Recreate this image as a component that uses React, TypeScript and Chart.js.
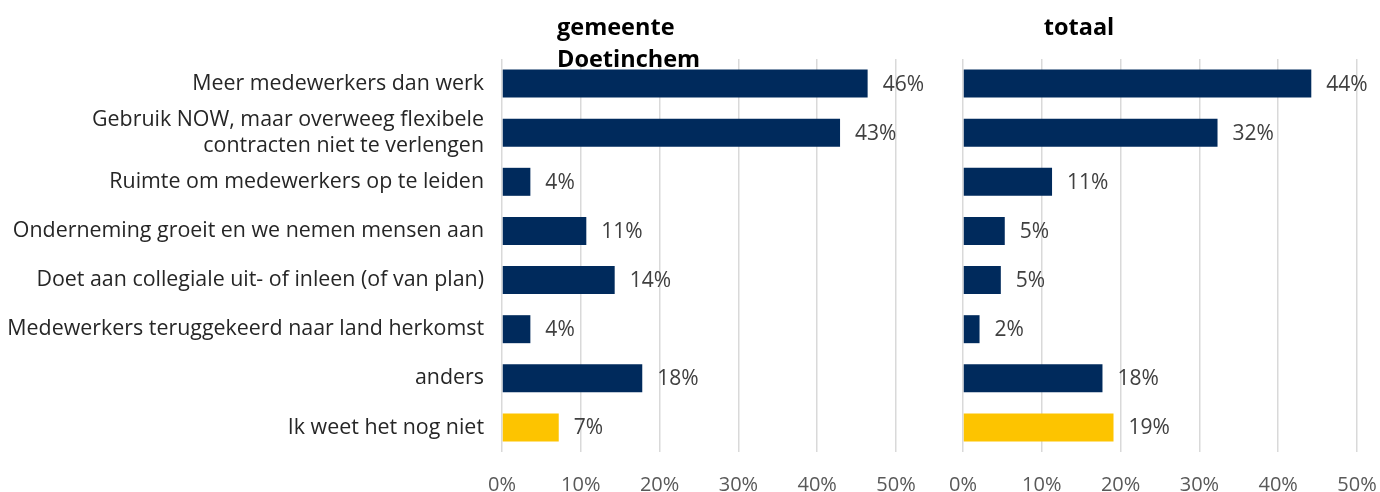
import React, { useEffect, useRef } from "react";
import { Chart, registerables } from "chart.js";

Chart.register(...registerables);

const categories: (string | string[])[] = [
  "Meer medewerkers dan werk",
  ["Gebruik NOW, maar overweeg flexibele", "contracten niet te verlengen"],
  "Ruimte om medewerkers op te leiden",
  "Onderneming groeit en we nemen mensen aan",
  "Doet aan collegiale uit- of inleen (of van plan)",
  "Medewerkers teruggekeerd naar land herkomst",
  "anders",
  "Ik weet het nog niet",
];

const gemeenteValues = [46.4, 42.9, 3.6, 10.7, 14.3, 3.6, 17.8, 7.2];
const totaalValues = [44.2, 32.3, 11.3, 5.3, 4.8, 2.1, 17.7, 19.1];

const axisMin = 0;
const axisMax = 50;
const axisStep = 10;

const leftTitleLines = ["gemeente", "Doetinchem"];
const rightTitleLines = ["totaal"];

const NAVY = "#002A5C";
const YELLOW = "#FDC400";
const FONT = "'Open Sans', 'Segoe UI', sans-serif";

const barColors = (n: number) =>
  Array.from({ length: n }, (_, i) => (i === n - 1 ? YELLOW : NAVY));

const valueLabelPlugin = {
  id: "valueLabels",
  afterDatasetsDraw(chart: any) {
    const ctx = chart.ctx;
    const meta = chart.getDatasetMeta(0);
    const data = chart.data.datasets[0].data as number[];
    ctx.save();
    ctx.font = `21px ${FONT}`;
    ctx.fillStyle = "#404040";
    ctx.textAlign = "left";
    ctx.textBaseline = "middle";
    meta.data.forEach((el: any, i: number) => {
      ctx.fillText(Math.round(data[i]) + "%", el.x + 15, el.y + 1);
    });
    ctx.restore();
  },
};

function makeTitlePlugin(lines: string[], x: number, align: CanvasTextAlign, baselines: number[]) {
  return {
    id: "panelTitle",
    afterDraw(chart: any) {
      const ctx = chart.ctx;
      ctx.save();
      ctx.font = `bold 23.5px ${FONT}`;
      ctx.fillStyle = "#000000";
      ctx.textAlign = align;
      ctx.textBaseline = "alphabetic";
      lines.forEach((l, i) => ctx.fillText(l, x, baselines[i]));
      ctx.restore();
    },
  };
}

function buildOptions(showCategories: boolean, padLeft: number, padRight: number) {
  return {
    animation: false,
    responsive: false,
    indexAxis: "y",
    layout: { padding: { top: 59, left: padLeft, right: padRight, bottom: 0 } },
    plugins: {
      legend: { display: false },
      tooltip: { enabled: false },
      title: { display: false },
    },
    scales: {
      x: {
        min: axisMin,
        max: axisMax,
        grid: {
          color: "#D9D9D9",
          lineWidth: 1.5,
          drawTicks: true,
          tickLength: 21,
          tickColor: "rgba(0,0,0,0)",
        },
        border: { display: false },
        ticks: {
          stepSize: axisStep,
          color: "#595959",
          font: { family: FONT, size: 20 },
          padding: 0,
          callback: (v: any) => v + "%",
        },
        afterFit: (scale: any) => {
          scale.height = 40;
        },
      },
      y: {
        display: showCategories,
        grid: { display: false, drawTicks: false },
        border: { display: false },
        ticks: {
          autoSkip: false,
          color: "#262626",
          font: { family: FONT, size: 21.4, lineHeight: 1.22 },
          padding: 18,
        },
        afterFit: (scale: any) => {
          if (showCategories) scale.width = 502;
        },
      },
    },
  } as any;
}

function Panel(props: {
  values: number[];
  showCategories: boolean;
  width: number;
  left: number;
  padLeft: number;
  padRight: number;
  titlePlugin: any;
}) {
  const ref = useRef<HTMLCanvasElement>(null);
  useEffect(() => {
    if (!ref.current) return;
    const chart = new Chart(ref.current, {
      type: "bar",
      data: {
        labels: categories as any,
        datasets: [
          {
            data: props.values,
            backgroundColor: barColors(props.values.length),
            borderWidth: 0,
            barPercentage: 0.57,
            categoryPercentage: 1,
          },
        ],
      },
      options: buildOptions(props.showCategories, props.padLeft, props.padRight),
      plugins: [valueLabelPlugin, props.titlePlugin],
    });
    return () => chart.destroy();
  }, []);
  return (
    <div style={{ position: "absolute", left: props.left, top: 0, width: props.width, height: 492 }}>
      <canvas ref={ref} width={props.width} height={492} />
    </div>
  );
}

export default function App() {
  return (
    <div
      style={{
        position: "fixed",
        left: 0,
        top: 0,
        width: 1380,
        height: 492,
        background: "#ffffff",
        overflow: "hidden",
      }}
    >
      <Panel
        values={gemeenteValues}
        showCategories={true}
        width={940}
        left={0}
        padLeft={0}
        padRight={44}
        titlePlugin={makeTitlePlugin(leftTitleLines, 557, "left", [35, 67])}
      />
      <Panel
        values={totaalValues}
        showCategories={false}
        width={440}
        left={940}
        padLeft={23}
        padRight={23}
        titlePlugin={makeTitlePlugin(rightTitleLines, 139, "center", [35])}
      />
    </div>
  );
}
